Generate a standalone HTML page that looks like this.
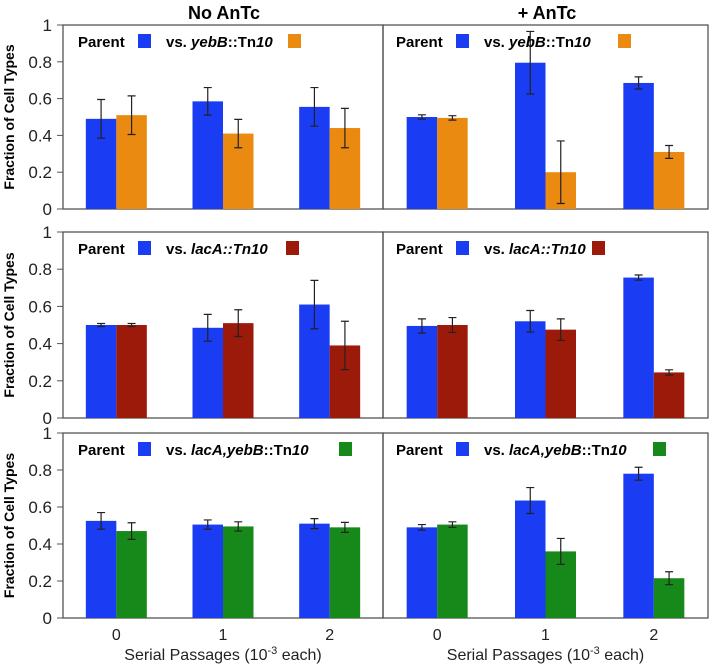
<!DOCTYPE html>
<html><head><meta charset="utf-8"><style>
html,body{margin:0;padding:0;background:#fff;}
svg{display:block;font-family:"Liberation Sans",Arial,sans-serif;}
</style></head><body>
<svg id="chart" width="712" height="666" viewBox="0 0 712 666" xmlns="http://www.w3.org/2000/svg">
<text x="224" y="19" text-anchor="middle" font-size="18" font-weight="bold">No AnTc</text>
<text x="547" y="19" text-anchor="middle" font-size="18" font-weight="bold">+ AnTc</text>
</svg>
<script>
const categories = ["0", "1", "2"];
const yTicks = [0, 0.2, 0.4, 0.6, 0.8, 1];
const yTickLabels = ["0", "0.2", "0.4", "0.6", "0.8", "1"];
// parent values / errors per panel: [row][col]
const parentVals = [
  [[0.49, 0.585, 0.555], [0.50, 0.795, 0.685]],
  [[0.50, 0.485, 0.61], [0.495, 0.52, 0.755]],
  [[0.525, 0.505, 0.51], [0.49, 0.635, 0.78]]
];
const parentErr = [
  [[0.105, 0.075, 0.105], [0.012, 0.17, 0.033]],
  [[0.008, 0.072, 0.13], [0.038, 0.058, 0.014]],
  [[0.045, 0.025, 0.027], [0.015, 0.07, 0.035]]
];
const mutantVals = [
  [[0.51, 0.41, 0.44], [0.495, 0.20, 0.31]],
  [[0.50, 0.51, 0.39], [0.50, 0.475, 0.245]],
  [[0.47, 0.495, 0.49], [0.505, 0.36, 0.215]]
];
const mutantErr = [
  [[0.105, 0.077, 0.107], [0.012, 0.17, 0.035]],
  [[0.008, 0.072, 0.13], [0.04, 0.058, 0.014]],
  [[0.045, 0.025, 0.027], [0.015, 0.07, 0.035]]
];
const mutantColors = ["#ea8a10", "#9b1a0a", "#17891a"];
const mutantNames = [
  ['<tspan font-style="italic">yebB</tspan>::Tn<tspan font-style="italic">10</tspan>', 288, 618],
  ['<tspan font-style="italic">lacA::Tn10</tspan>', 286, 592],
  ['<tspan font-style="italic">lacA,yebB</tspan>::Tn<tspan font-style="italic">10</tspan>', 339, 653]
];

const NS = "http://www.w3.org/2000/svg";
const svg = document.getElementById("chart");
const rows = [[25, 209], [232, 418], [433, 618]];
const cols = [[63, 383], [383, 708]];
const BLUE = "#1a3cf2";
function mk(tag, attrs, parent) {
  const e = document.createElementNS(NS, tag);
  for (const k in attrs) e.setAttribute(k, attrs[k]);
  (parent || svg).appendChild(e);
  return e;
}
function yScale(r, v) { return rows[r][1] - v * (rows[r][1] - rows[r][0]); }
function xCenter(c, i) { const [a, b] = cols[c]; return a + (b - a) * (i + 0.5) / categories.length; }

for (let r = 0; r < 3; r++) {
  const g = mk("g", {});
  
  
  const yt = mk("text", { x: 0, y: 0, "font-size": 14, "font-weight": "bold", "text-anchor": "middle",
    transform: `translate(14,${(rows[r][0] + rows[r][1]) / 2}) rotate(-90)` }, g);
  yt.textContent = "Fraction of Cell Types";
  
  
  yTicks.forEach((t, k) => {
    const y = yScale(r, t);
    const tk = mk("line", { x1: 57, x2: 63, y1: y, y2: y, stroke: "#555", "stroke-width": 1 }, g);
    
    
    const tl = mk("text", { x: 52, y: y + 6, "text-anchor": "end", "font-size": 17, fill: "#222" }, g);
    tl.textContent = yTickLabels[k];
    
    
  });
  for (let c = 0; c < 2; c++) {
    const [x0, x1] = cols[c];
    const fr = mk("rect", { x: x0, y: rows[r][0], width: x1 - x0, height: rows[r][1] - rows[r][0], fill: "none", stroke: "#555", "stroke-width": 1.3 }, g);
    
    
    const bw = 30.5;
    for (let i = 0; i < categories.length; i++) {
      const cx = xCenter(c, i);
      [[parentVals, parentErr, BLUE, cx - bw], [mutantVals, mutantErr, mutantColors[r], cx]].forEach(([V, E, col, bx], s) => {
        const v = V[r][c][i], e = E[r][c][i];
        const yv = yScale(r, v);
        const b = mk("rect", { x: bx, y: yv, width: bw, height: rows[r][1] - yv, fill: col }, g);
        
        
        const ex = bx + bw / 2, ya = yScale(r, v + e), yb = yScale(r, v - e);
        const eb = mk("path", { d: `M${ex},${ya}V${yb}M${ex - 4},${ya}H${ex + 4}M${ex - 4},${yb}H${ex + 4}`, stroke: "#222", "stroke-width": 1.2, fill: "none" }, g);
        
        
      });
    }
    const lx = c === 0 ? 78 : 396, ly = rows[r][0] + 22;
    const lg = mk("g", {}, g);
    
    
    const t1 = mk("text", { x: lx, y: ly, "font-size": 15, "font-weight": "bold" }, lg);
    t1.textContent = "Parent";
    
    
    const s1 = mk("rect", { x: lx + 60, y: ly - 13, width: 13, height: 14, fill: BLUE }, lg);
    
    
    const t2 = mk("text", { x: lx + 88, y: ly, "font-size": 15, "font-weight": "bold" }, lg);
    t2.innerHTML = "vs. " + mutantNames[r][0];
    
    
    const s2 = mk("rect", { x: mutantNames[r][1 + c], y: ly - 13, width: 13, height: 14, fill: mutantColors[r] }, lg);
    
    
    if (r === 2) {
      categories.forEach((cat, i) => {
        const xl = mk("text", { x: xCenter(c, i), y: 640, "text-anchor": "middle", "font-size": 16, fill: "#222" });
        xl.textContent = cat;
        
        
      });
      const xt = mk("text", { x: (x0 + x1) / 2, y: 660, "text-anchor": "middle", "font-size": 16, fill: "#222" });
      xt.innerHTML = 'Serial Passages (10<tspan dy="-6" font-size="11">-3</tspan><tspan dy="6"> each)</tspan>';
      
      
    }
  }
}
</script>
</body></html>
